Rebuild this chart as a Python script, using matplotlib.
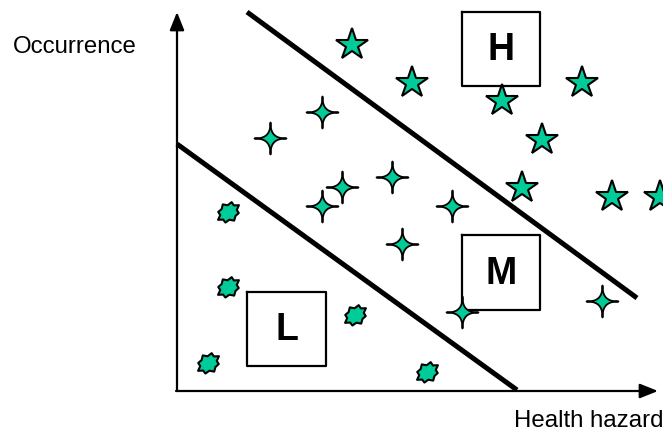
import matplotlib.pyplot as plt
import numpy as np
from matplotlib.path import Path

# risk map drawn in pixel-like units (x right, y down)
high_x = [352, 412, 502, 582, 542, 522, 612, 660]
high_y = [45, 83, 101, 83, 140, 188, 197, 197]

med_x = [322, 270, 342, 322, 392, 452, 402, 462, 602]
med_y = [112, 138, 187, 206, 177, 206, 244, 312, 301]

low_x = [228, 228, 208, 355, 427]
low_y = [212, 287, 363, 315, 372]

# boundary lines: (x0, y0, x1, y1)
lm_line = [177, 144, 517, 390]
mh_line = [247, 12, 637, 298]

# label boxes: (left, top, right, bottom, letter)
box_left = [462, 462, 247]
box_top = [12, 235, 292]
box_right = [540, 540, 326]
box_bottom = [86, 310, 366]
box_text = ['H', 'M', 'L']

GREEN = '#00CC99'


def four_point_star(p=4.2, n=240):
    t = np.linspace(0, 2 * np.pi, n, endpoint=False)
    c, s = np.cos(t), np.sin(t)
    x = np.sign(c) * np.abs(c) ** p
    y = np.sign(s) * np.abs(s) ** p
    verts = np.column_stack([x, y])
    verts = np.vstack([verts, verts[:1]])
    return Path(verts, closed=True)


def burst():
    # jagged blob, tilted
    radii = [1.0, 0.72, 0.95, 0.7, 1.0, 0.74, 0.9, 0.7,
             1.0, 0.72, 0.92, 0.7, 1.0, 0.75, 0.9, 0.7]
    t = np.linspace(0, 2 * np.pi, len(radii), endpoint=False)
    r = np.array(radii)
    x = r * np.cos(t)
    y = 0.78 * r * np.sin(t)
    a = np.deg2rad(35)
    xr = x * np.cos(a) - y * np.sin(a)
    yr = x * np.sin(a) + y * np.cos(a)
    verts = np.column_stack([xr, yr])
    verts = np.vstack([verts, verts[:1]])
    return Path(verts, closed=True)


fig = plt.figure(figsize=(6.63, 4.33), dpi=100)
ax = fig.add_axes([0, 0, 1, 1])
ax.set_xlim(0, 663)
ax.set_ylim(433, 0)
ax.axis('off')

# axes with arrows
arrow = dict(arrowstyle='-|>,head_length=0.55,head_width=0.22',
             lw=1.6, color='black', shrinkA=0, shrinkB=0, mutation_scale=20)
ax.annotate('', xy=(177, 12), xytext=(177, 391), arrowprops=arrow)
ax.annotate('', xy=(658, 391), xytext=(176, 391), arrowprops=arrow)

# boundaries
for ln in (lm_line, mh_line):
    ax.plot([ln[0], ln[2]], [ln[1], ln[3]], color='black', lw=3.6,
            solid_capstyle='butt')

# boxes
for l, t, r, b, s in zip(box_left, box_top, box_right, box_bottom, box_text):
    ax.plot([l, r, r, l, l], [t, t, b, b, t], color='black', lw=1.6)
    ax.text((l + r) / 2, (t + b) / 2 + 1, s, ha='center', va='center',
            fontsize=27, fontweight='bold', family='Liberation Sans')

# markers
ax.plot(high_x, high_y, ls='none', marker='*', ms=24, mfc=GREEN,
        mec='black', mew=1.5, clip_on=False)
ax.plot(med_x, med_y, ls='none', marker=four_point_star(), ms=23, mfc=GREEN,
        mec='black', mew=1.3)
ax.plot(low_x, low_y, ls='none', marker=burst(), ms=15, mfc=GREEN,
        mec='black', mew=1.5)

ax.text(13, 47, 'Occurrence', ha='left', va='center', fontsize=17.3,
        family='Liberation Sans')
ax.text(514, 421, 'Health hazard', ha='left', va='center', fontsize=17.3,
        family='Liberation Sans')

fig.savefig('out.png', dpi=100)
